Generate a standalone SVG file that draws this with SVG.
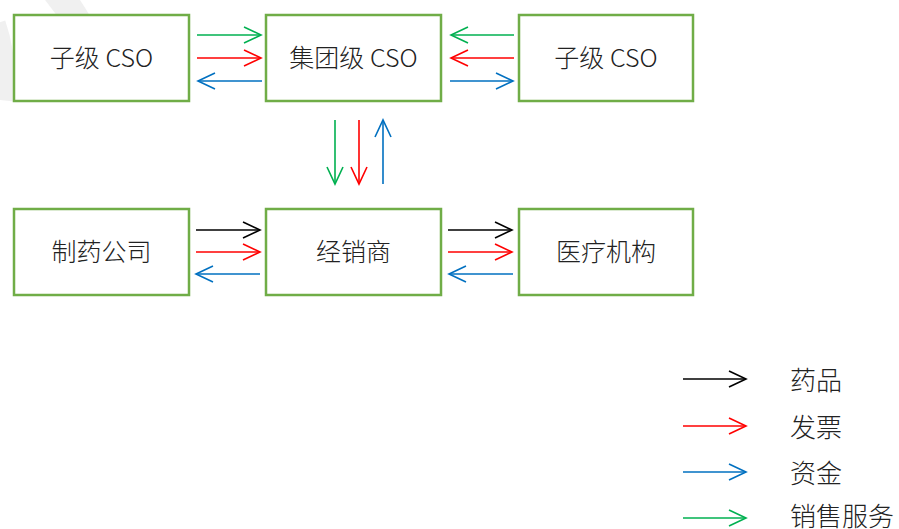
<svg xmlns="http://www.w3.org/2000/svg" width="899" height="529" viewBox="0 0 899 529">
<style>
.box{fill:#fff;stroke:#70AD47;stroke-width:2.5}
.t{font-family:"Noto Sans CJK SC","Liberation Sans",sans-serif;font-size:25px;font-weight:300;fill:#222;text-anchor:middle;dominant-baseline:central}
.lt{font-family:"Noto Sans CJK SC","Liberation Sans",sans-serif;font-size:26px;font-weight:300;fill:#222;dominant-baseline:central}
.a{fill:none;stroke-width:1.6}
.k{stroke:#000}.r{stroke:#FF0000}.b{stroke:#0070C0}.g{stroke:#00B050}
</style>
<defs>
<marker id="mk" viewBox="-18 -9 20 18" refX="0" refY="0" markerWidth="20" markerHeight="18" markerUnits="userSpaceOnUse" orient="auto">
<path d="M-17,-8 L0,0 L-17,8" fill="none" stroke="#000" stroke-width="1.6"/>
</marker>
<marker id="mr" viewBox="-18 -9 20 18" refX="0" refY="0" markerWidth="20" markerHeight="18" markerUnits="userSpaceOnUse" orient="auto">
<path d="M-17,-8 L0,0 L-17,8" fill="none" stroke="#FF0000" stroke-width="1.6"/>
</marker>
<marker id="mb" viewBox="-18 -9 20 18" refX="0" refY="0" markerWidth="20" markerHeight="18" markerUnits="userSpaceOnUse" orient="auto">
<path d="M-17,-8 L0,0 L-17,8" fill="none" stroke="#0070C0" stroke-width="1.6"/>
</marker>
<marker id="mg" viewBox="-18 -9 20 18" refX="0" refY="0" markerWidth="20" markerHeight="18" markerUnits="userSpaceOnUse" orient="auto">
<path d="M-17,-8 L0,0 L-17,8" fill="none" stroke="#00B050" stroke-width="1.6"/>
</marker>
</defs>
<rect width="899" height="529" fill="#fff"/>
<g id="watermark" fill="none" stroke="#f0f0f0" stroke-width="28">
<path d="M55,-10 Q78,18 88,45"/>
<path d="M-8,25 Q4,60 0,100"/>
</g>
<g id="n1"><rect class="box" x="14" y="15" width="175" height="86"/><text class="t" x="101.5" y="56">子级 CSO</text></g>
<g id="n2"><rect class="box" x="266" y="15" width="175" height="86"/><text class="t" x="353.5" y="56">集团级 CSO</text></g>
<g id="n3"><rect class="box" x="519" y="15" width="174" height="86"/><text class="t" x="606" y="56">子级 CSO</text></g>
<g id="n4"><rect class="box" x="14" y="209" width="175" height="86"/><text class="t" x="101.5" y="250">制药公司</text></g>
<g id="n5"><rect class="box" x="266" y="209" width="175" height="86"/><text class="t" x="353.5" y="250">经销商</text></g>
<g id="n6"><rect class="box" x="519" y="209" width="174" height="86"/><text class="t" x="606" y="250">医疗机构</text></g>
<g id="connectors">
<path class="a g" d="M197,35 H261" marker-end="url(#mg)"/>
<path class="a r" d="M197,58 H261" marker-end="url(#mr)"/>
<path class="a b" d="M262,81 H198" marker-end="url(#mb)"/>
<path class="a g" d="M514,35 H451" marker-end="url(#mg)"/>
<path class="a r" d="M514,58 H451" marker-end="url(#mr)"/>
<path class="a b" d="M450,81 H513" marker-end="url(#mb)"/>
<path class="a g" d="M335,120 V184" marker-end="url(#mg)"/>
<path class="a r" d="M359,120 V184" marker-end="url(#mr)"/>
<path class="a b" d="M383,184 V120" marker-end="url(#mb)"/>
<path class="a k" d="M196,230 H260" marker-end="url(#mk)"/>
<path class="a r" d="M196,252 H260" marker-end="url(#mr)"/>
<path class="a b" d="M260,274 H196" marker-end="url(#mb)"/>
<path class="a k" d="M448,230 H512" marker-end="url(#mk)"/>
<path class="a r" d="M448,252 H512" marker-end="url(#mr)"/>
<path class="a b" d="M513,274 H449" marker-end="url(#mb)"/>
</g>
<g id="legend">
<path class="a k" d="M683,379 H746" marker-end="url(#mk)"/>
<text class="lt" x="790" y="378">药品</text>
<path class="a r" d="M683,426 H746" marker-end="url(#mr)"/>
<text class="lt" x="790" y="425">发票</text>
<path class="a b" d="M683,472 H746" marker-end="url(#mb)"/>
<text class="lt" x="790" y="471">资金</text>
<path class="a g" d="M683,518 H746" marker-end="url(#mg)"/>
<text class="lt" x="790" y="514">销售服务</text>
</g>
</svg>
